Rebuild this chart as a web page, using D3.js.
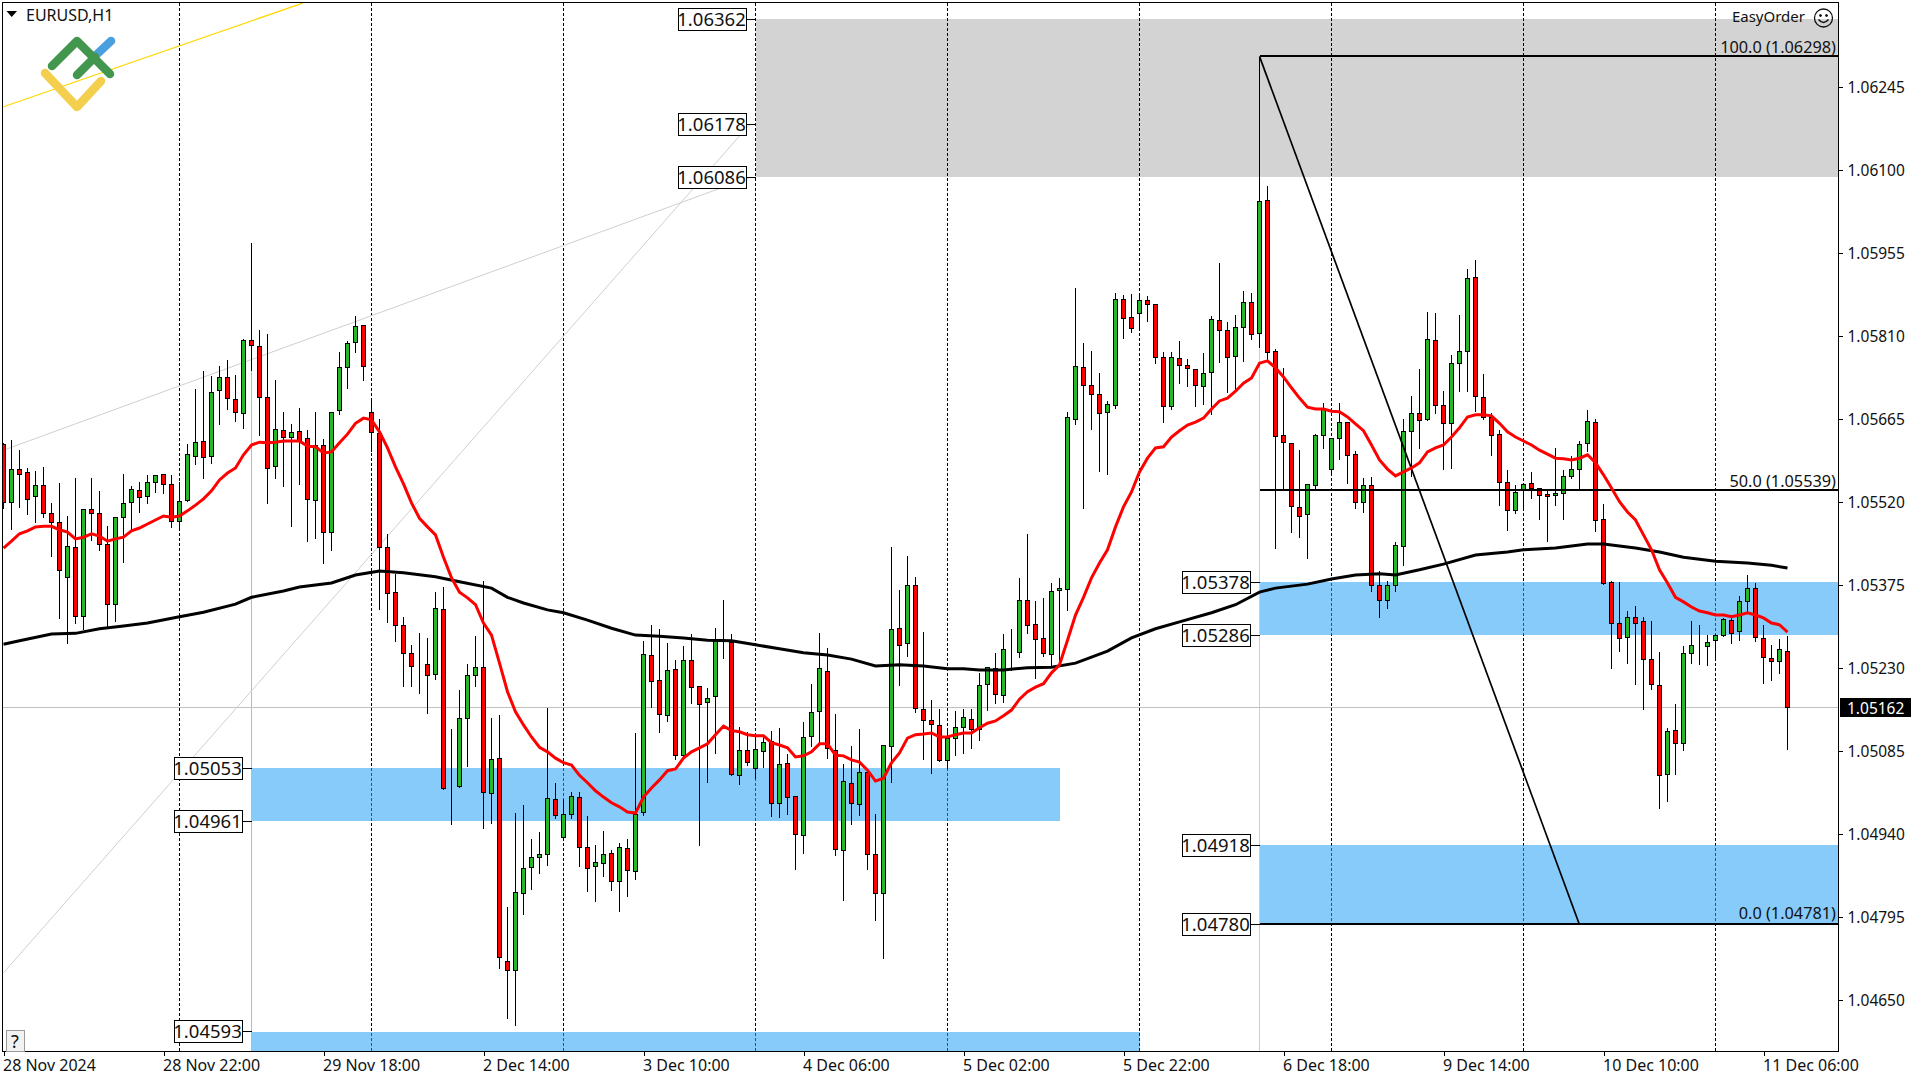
<!DOCTYPE html>
<html><head><meta charset="utf-8">
<script src="https://cdn.jsdelivr.net/npm/d3@7"></script>
<style>html,body{margin:0;padding:0;background:#fff;overflow:hidden}svg{display:block}text{font-family:"Noto Sans",sans-serif;fill:#111}</style>
</head><body><svg id="c" width="1920" height="1080"></svg>
<script>
// all prices are in points (price x 100000)
const opens=[105621,105520,105577,105572,105530,105549,105500,105485,105389,105441,
105320,105507,105500,105446,105341,105493,105520,105540,105530,105554,
105568,105551,105486,105523,105600,105626,105600,105715,105738,105699,
105675,105803,105792,105703,105582,105645,105633,105644,105631,105523,
105619,105467,105680,105755,105799,105829,105677,105640,105441,105362,
105305,105256,105236,105236,105219,105332,105022,105023,105142,105217,
105231,105011,105072,104718,104702,104836,104882,104899,104905,105001,
104934,104974,105004,104917,104884,104889,104906,104857,104915,104875,
104978,105252,105209,105147,105228,105077,105243,105198,105170,105181,
105278,105275,105042,105086,105055,105084,105102,104994,105063,105006,
104938,105111,105154,105224,105086,104912,105029,104992,105048,104905,
104836,105093,105299,105273,105374,105158,105139,105130,105069,105107,
105126,105141,105123,105202,105230,105182,105257,105257,105348,105306,
105282,105254,105366,105367,105664,105755,105724,105708,105677,105689,
105874,105843,105850,105872,105865,105773,105687,105771,105759,105752,
105722,105747,105837,105820,105775,105825,105869,105815,106047,105783,
105636,105623,105511,105498,105549,105636,105577,105631,105659,105603,
105520,105549,105374,105348,105374,105443,105644,105675,105664,105803,
105689,105657,105762,105783,105912,105703,105668,105638,105554,105506,
105540,105553,105544,105533,105532,105535,105565,105577,105623,105659,
105490,105380,105308,105283,105319,105312,105245,105200,105044,105121,
105098,105256,105266,105268,105278,105287,105313,105294,105346,105369,
105282,105247,105242,105259];
const closes=[105520,105577,105568,105525,105549,105500,105485,105401,105443,105320,
105507,105500,105446,105341,105493,105518,105542,105528,105554,105567,
105551,105486,105521,105603,105624,105598,105712,105738,105701,105677,
105803,105794,105703,105579,105647,105633,105642,105626,105525,105619,
105467,105677,105755,105797,105827,105757,105642,105441,105360,105305,
105256,105233,105236,105217,105334,105020,105022,105142,105217,105231,
105013,105070,104725,104702,104838,104880,104899,104905,105002,104973,
104974,105006,104917,104880,104891,104905,104857,104917,104877,104974,
105254,105207,105149,105226,105077,105243,105196,105167,105177,105277,
105278,105044,105086,105065,105088,105100,104994,105062,105004,104939,
105109,105153,105230,105090,104913,105032,104994,105048,104905,104836,
105095,105298,105270,105374,105160,105139,105132,105069,105107,105126,
105144,105123,105200,105231,105184,105263,105257,105348,105305,105280,
105256,105364,105369,105668,105757,105724,105708,105675,105691,105874,
105841,105823,105872,105865,105773,105687,105773,105759,105754,105724,
105745,105839,105820,105773,105825,105869,105813,106045,105781,105635,
105624,105513,105495,105551,105636,105682,105631,105659,105602,105520,
105549,105374,105348,105374,105444,105644,105675,105663,105804,105689,
105657,105762,105783,105911,105705,105668,105636,105554,105506,105537,
105551,105544,105532,105530,105535,105565,105577,105621,105661,105488,
105378,105308,105282,105319,105308,105245,105202,105042,105120,105098,
105256,105270,105266,105275,105287,105315,105290,105346,105369,105283,
105249,105242,105263,105162];
const highs=[105624,105630,105612,105581,105575,105582,105520,105554,105497,105563,
105507,105563,105540,105479,105495,105570,105549,105556,105568,105568,
105570,105568,105556,105623,105719,105750,105741,105759,105769,105743,
105806,105974,105822,105815,105734,105678,105657,105685,105647,105678,
105631,105678,105783,105803,105846,105829,105703,105666,105465,105396,
105320,105271,105292,105283,105364,105373,105125,105193,105238,105287,
105383,105144,105149,104814,104978,104992,104932,104945,105161,105030,
105002,105015,105015,104973,104922,104946,104913,104926,104932,105118,
105278,105306,105299,105275,105245,105270,105290,105198,105196,105301,
105350,105290,105128,105120,105114,105114,105121,105126,105081,105006,
105137,105203,105292,105266,105151,105063,105095,105125,105048,104976,
105095,105443,105367,105427,105390,105294,105175,105160,105126,105156,
105160,105160,105222,105233,105257,105290,105299,105389,105465,105348,
105353,105380,105389,105678,105895,105799,105785,105747,105698,105886,
105883,105885,105885,105881,105865,105783,105783,105803,105771,105754,
105781,105846,105939,105836,105848,105890,105886,106298,106073,105789,
105755,105623,105612,105553,105640,105694,105631,105694,105659,105610,
105563,105565,105401,105383,105451,105666,105706,105754,105853,105851,
105715,105778,105848,105928,105944,105745,105677,105647,105577,105551,
105551,105574,105546,105540,105616,105577,105602,105628,105682,105666,
105518,105383,105381,105331,105340,105320,105313,105259,105126,105168,
105270,105313,105306,105289,105290,105319,105324,105357,105394,105380,
105306,105271,105282,105287];
const lows=[105511,105474,105513,105500,105486,105495,105427,105319,105275,105310,
105299,105455,105437,105303,105313,105416,105474,105504,105520,105539,
105537,105477,105476,105523,105588,105563,105589,105657,105684,105663,
105650,105752,105638,105520,105563,105549,105479,105553,105453,105458,
105415,105437,105675,105720,105783,105734,105610,105334,105312,105278,
105200,105200,105188,105153,105212,105020,104959,105023,105060,105200,
104952,104960,104707,104620,104608,104802,104845,104873,104887,104969,
104934,104969,104885,104842,104824,104868,104844,104807,104833,104863,
104974,105163,105120,105139,105072,105072,105170,104922,105032,105083,
105249,105044,105029,105062,105039,105058,104973,104971,104976,104880,
104908,105095,105102,105074,104905,104826,104959,104974,104880,104791,
104725,105032,105202,105252,105154,105072,105048,105069,105056,105079,
105083,105092,105105,105158,105170,105172,105228,105250,105292,105214,
105252,105236,105235,105332,105657,105511,105649,105575,105570,105685,
105808,105818,105823,105837,105764,105661,105684,105729,105724,105689,
105693,105675,105766,105713,105717,105768,105806,105792,105768,105441,
105544,105469,105460,105423,105542,105616,105572,105596,105554,105511,
105504,105366,105320,105336,105366,105411,105567,105616,105664,105677,
105579,105581,105715,105715,105680,105666,105603,105516,105472,105502,
105509,105528,105491,105453,105516,105491,105563,105542,105610,105471,
105378,105231,105261,105240,105203,105160,105195,104987,104999,105046,
105088,105240,105238,105236,105247,105287,105275,105280,105329,105278,
105205,105210,105222,105090];
const maFast=[105439,105451,105464,105469,105476,105477,105477,105471,105467,105455,
105458,105464,105460,105451,105455,105458,105469,105474,105481,105488,
105495,105493,105495,105504,105514,105525,105539,105558,105570,105579,
105602,105619,105624,105623,105624,105626,105626,105626,105617,105616,
105605,105607,105623,105638,105657,105666,105663,105642,105614,105581,
105551,105518,105491,105476,105462,105423,105387,105362,105352,105340,
105308,105287,105238,105188,105153,105130,105109,105091,105083,105072,
105064,105060,105042,105029,105015,105004,104994,104987,104978,104976,
105004,105020,105034,105050,105053,105072,105083,105090,105097,105113,
105128,105120,105118,105113,105111,105111,105099,105095,105090,105074,
105076,105083,105097,105097,105077,105076,105069,105065,105051,105032,
105037,105064,105081,105107,105113,105114,105116,105109,105109,105113,
105116,105116,105125,105133,105137,105146,105156,105175,105188,105196,
105202,105221,105235,105278,105322,105353,105387,105413,105436,105476,
105511,105537,105572,105596,105614,105616,105633,105644,105654,105659,
105666,105682,105696,105701,105713,105727,105736,105762,105766,105754,
105738,105719,105701,105685,105682,105682,105678,105677,105668,105656,
105644,105619,105593,105577,105565,105572,105579,105588,105607,105614,
105619,105633,105649,105668,105672,105672,105670,105657,105642,105633,
105626,105619,105610,105603,105596,105595,105593,105596,105602,105588,
105567,105544,105520,105502,105488,105462,105436,105401,105378,105353,
105345,105336,105329,105326,105322,105322,105319,105322,105326,105322,
105317,105308,105305,105292];
const maSlowBars=[0,2,6,9,12,15,18,22,25,29,31,35,37,41,44,47,50,54,57,61,63,65,68,70,73,76,79,82,85,88,91,94,97,100,103,106,109,112,115,118,120,122,125,128,131,134,138,141,144,147,151,154,157,159,163,166,169,172,174,177,180,184,188,190,194,198,200,204,207,210,214,218,221,223];
const maSlowVals=[105271,105277,105289,105290,105298,105303,105308,105319,105327,105341,105353,105364,105371,105378,105392,105399,105396,105389,105380,105369,105353,105343,105331,105326,105313,105299,105287,105285,105282,105278,105277,105270,105263,105256,105252,105245,105233,105235,105233,105228,105228,105226,105226,105230,105231,105238,105259,105282,105298,105310,105326,105340,105362,105369,105376,105385,105392,105394,105392,105401,105411,105427,105432,105436,105439,105446,105446,105439,105432,105423,105416,105413,105409,105404];
const priceTicks=[106245,106100,105955,105810,105665,105520,105375,105230,105085,104940,104795,104650];
const timeBars=[0,20,40,60,80,100,120,140,160,180,200,220];
const timeLabels=["28 Nov 2024","28 Nov 22:00","29 Nov 18:00","2 Dec 14:00","3 Dec 10:00","4 Dec 06:00","5 Dec 02:00","5 Dec 22:00","6 Dec 18:00","9 Dec 14:00","10 Dec 10:00","11 Dec 06:00"];
const gridBars=[22,46,70,94,118,142,166,190,214];
const lastPrice=105162;
// zones: left bar, right bar (null = to the right edge), top and bottom price
const zoneLeft=[94,31,31,157,157];
const zoneRight=[null,132,142,null,null];
const zoneTop=[106362,105053,104593,105378,104918];
const zoneBottom=[106086,104961,104400,105286,104780];
const zoneColors=["#D3D3D3","#87CBFA","#87CBFA","#87CBFA","#87CBFA"];
const boxPrices=[106362,106178,106086,105053,104961,104593,105378,105286,104918,104780];
const boxBars=[94,94,94,31,31,31,157,157,157,157];
const fibLevels=[106298,105539,104781];
const fibLabels=["100.0 (1.06298)","50.0 (1.05539)","0.0 (1.04781)"];
const fibStartBar=157, fibEndBar=197;
const trendBarsA=[0,37.4], trendPricesA=[106210,106391];
const trendBarsB=[0,93.2], trendPricesB=[105610,106086];
const trendBarsC=[0,93.2], trendPricesC=[104697,106178];

const svg=d3.select("#c");
const L=2.5,T=2.5,R=1838.5,B=1051.5;
const x=d3.scaleLinear().domain([0,1]).range([3.5,11.5]);
const y=d3.scaleLinear().domain([106245,104650]).range([86.7,999.7]);
const py=v=>Math.round(y(v))+0.5;
const ly=v=>Math.floor(y(v)-0.5)+0.5;
const zy=v=>Math.floor(y(v)-0.3);
const px=i=>Math.round(x(i)-0.5)+0.5;

svg.append("defs").append("clipPath").attr("id","plot").append("rect")
  .attr("x",L).attr("y",T).attr("width",R-L).attr("height",B-T);
zoneTop.forEach((t,k)=>{ if(k>0){
  svg.select("defs").append("clipPath").attr("id","bz"+k).append("rect")
   .attr("x",x(zoneLeft[k])).attr("y",zy(t))
   .attr("width",(zoneRight[k]===null?R:x(zoneRight[k]))-x(zoneLeft[k]))
   .attr("height",zy(zoneBottom[k])-zy(t));
}});
const plot=svg.append("g").attr("clip-path","url(#plot)");

// zones
zoneTop.forEach((t,k)=>{
  const xl=x(zoneLeft[k]),xr=zoneRight[k]===null?R:x(zoneRight[k]);
  plot.append("rect").attr("x",xl).attr("y",zy(t)).attr("width",xr-xl)
    .attr("height",zy(zoneBottom[k])-zy(t)).attr("fill",zoneColors[k]).attr("shape-rendering","crispEdges");
});
// grid
const gridG=plot.append("g").attr("shape-rendering","crispEdges");
gridBars.forEach(b=>gridG.append("line").attr("x1",px(b)).attr("x2",px(b)).attr("y1",T).attr("y2",B)
  .attr("stroke","#000").attr("stroke-dasharray","3 2"));
zoneTop.forEach((t,k)=>{ if(k>0){
  const g=plot.append("g").attr("clip-path","url(#bz"+k+")").attr("shape-rendering","crispEdges");
  gridBars.forEach(b=>g.append("line").attr("x1",px(b)).attr("x2",px(b)).attr("y1",T).attr("y2",B)
    .attr("stroke","#6b4226").attr("stroke-dasharray","3 2"));
}});
// anchors and price line
plot.append("line").attr("x1",x(31)).attr("x2",x(31)).attr("y1",y(105800)).attr("y2",B).attr("stroke","#8FC6F0").attr("shape-rendering","crispEdges");
plot.append("line").attr("x1",x(157)).attr("x2",x(157)).attr("y1",y(106298)).attr("y2",B).attr("stroke","#CFCFCF").attr("stroke-width",1.5).attr("shape-rendering","crispEdges");
plot.append("line").attr("x1",L).attr("x2",R).attr("y1",py(lastPrice)).attr("y2",py(lastPrice)).attr("stroke","#C0C0C0").attr("shape-rendering","crispEdges");
// trend lines
const seg=(bars,prices,color,w)=>plot.append("line").attr("x1",x(bars[0])).attr("y1",y(prices[0])).attr("x2",x(bars[1])).attr("y2",y(prices[1])).attr("stroke",color).attr("stroke-width",w);
seg(trendBarsA,trendPricesA,"#FFD700",1.2);
seg(trendBarsB,trendPricesB,"#CFCFCF",1);
seg(trendBarsC,trendPricesC,"#CFCFCF",1);

// candles
const bars=d3.range(opens.length);
const cg=plot.append("g").attr("shape-rendering","crispEdges");
cg.selectAll("line.w").data(bars).join("line").attr("class","w")
  .attr("x1",px).attr("x2",px).attr("y1",i=>py(highs[i])).attr("y2",i=>py(lows[i])+1).attr("stroke","#000");
cg.selectAll("rect.b").data(bars).join("rect").attr("class","b")
  .attr("x",i=>px(i)-2).attr("width",4)
  .attr("y",i=>py(Math.max(opens[i],closes[i])))
  .attr("height",i=>Math.max(0,py(Math.min(opens[i],closes[i]))-py(Math.max(opens[i],closes[i]))))
  .attr("fill",i=>closes[i]>opens[i]?"#26B826":"#FF0000").attr("stroke","#000");

// fibo
const fg=plot.append("g");
fibLevels.forEach(v=>fg.append("line").attr("x1",x(fibStartBar)).attr("x2",R).attr("y1",Math.floor(y(v))).attr("y2",Math.floor(y(v))).attr("stroke","#000").attr("stroke-width",2).attr("shape-rendering","crispEdges"));
fg.append("line").attr("x1",x(fibStartBar)).attr("y1",y(fibLevels[0])).attr("x2",x(fibEndBar)).attr("y2",y(fibLevels[2])).attr("stroke","#000").attr("stroke-width",1.7);

// moving averages
const lineGen=d3.line().x(d=>x(d[0])).y(d=>y(d[1]));
plot.append("path").attr("d",lineGen(maSlowBars.map((b,i)=>[b,maSlowVals[i]]))).attr("fill","none").attr("stroke","#000").attr("stroke-width",3);
plot.append("path").attr("d",lineGen(maFast.map((v,i)=>[i,v]))).attr("fill","none").attr("stroke","#FF0000").attr("stroke-width",3);

// fibo labels
const fy=[-3,-4,-5.5];
fibLevels.forEach((v,k)=>svg.append("text").attr("x",1836).attr("y",y(v)+fy[k]).attr("text-anchor","end").attr("font-size",16.3).text(fibLabels[k]));

// price boxes
boxPrices.forEach((v,k)=>{
  const xr=x(boxBars[k])-10, yy=ly(v);
  svg.append("line").attr("x1",xr).attr("x2",x(boxBars[k])).attr("y1",yy).attr("y2",yy).attr("stroke","#000").attr("shape-rendering","crispEdges");
  svg.append("rect").attr("x",Math.round(xr-68)+0.5).attr("y",yy-11).attr("width",68).attr("height",22).attr("fill","#fff").attr("stroke","#000").attr("shape-rendering","crispEdges");
  svg.append("text").attr("x",xr-34).attr("y",yy+6.5).attr("text-anchor","middle").attr("font-size",18.5).text((v/1e5).toFixed(5));
});

// frame
svg.append("rect").attr("x",L).attr("y",T).attr("width",R-L).attr("height",B-T).attr("fill","none").attr("stroke","#000").attr("shape-rendering","crispEdges");

// axes
const priceAxis=d3.axisRight(y).tickValues(priceTicks).tickSize(4).tickPadding(5).tickFormat(v=>(v/1e5).toFixed(5));
const ag=svg.append("g").attr("transform",`translate(${R},0)`).call(priceAxis);
ag.select(".domain").remove();
ag.selectAll("text").attr("font-size",15.5).attr("transform","translate(0,1)").attr("font-family",'"Noto Sans",sans-serif').attr("fill","#111");
ag.selectAll("line").attr("stroke","#000").attr("shape-rendering","crispEdges");
const timeAxis=d3.axisBottom(x).tickValues(timeBars).tickSize(4).tickPadding(4).tickFormat((d,i)=>timeLabels[i]);
const tg=svg.append("g").attr("transform",`translate(0,${B})`).call(timeAxis);
tg.select(".domain").remove();
tg.selectAll("text").attr("text-anchor","start").attr("dx",-1).attr("font-size",16).attr("font-family",'"Noto Sans",sans-serif').attr("fill","#111");
tg.selectAll("line").attr("stroke","#000").attr("shape-rendering","crispEdges");

// last price tag
svg.append("rect").attr("x",1840).attr("y",py(lastPrice)-9.5).attr("width",71).attr("height",19).attr("fill","#000");
svg.append("text").attr("x",1847).attr("y",py(lastPrice)+6).attr("font-size",15.5).style("fill","#fff").text((lastPrice/1e5).toFixed(5));

// header
svg.append("path").attr("d","M6.5 11 L17 11 L11.7 17 Z").attr("fill","#000");
svg.append("text").attr("x",26).attr("y",20.5).attr("font-size",16).text("EURUSD,H1");
svg.append("text").attr("x",1805).attr("y",22).attr("text-anchor","end").attr("font-size",15).text("EasyOrder");
const sm=svg.append("g").attr("transform","translate(1823.5,18)").attr("fill","none").attr("stroke","#111");
sm.append("circle").attr("r",9).attr("stroke-width",1.3);
sm.append("path").attr("d","M-5 1.5 Q0 7.5 5 1.5").attr("stroke-width",1.4);
sm.append("circle").attr("cx",-3).attr("cy",-2.5).attr("r",1).attr("fill","#111");
sm.append("circle").attr("cx",3).attr("cy",-2.5).attr("r",1).attr("fill","#111");

// logo
const logo=svg.append("g").attr("fill","none").attr("stroke-width",8.5).attr("stroke-linecap","round").attr("stroke-linejoin","round");
logo.append("path").attr("d","M95 56 L111 41").attr("stroke","#4A9FDF");
logo.append("path").attr("d","M45 73 L77 107 L101 81").attr("stroke","#F4CF4E");
logo.append("path").attr("d","M52 66 L77 41 L110 74").attr("stroke","#43964E");
logo.append("path").attr("d","M77 75 L95 57").attr("stroke","#43964E");

// help button
svg.append("rect").attr("x",6.5).attr("y",1030.5).attr("width",18).attr("height",21).attr("fill","#F2F2F2").attr("stroke","#9a9a9a").attr("shape-rendering","crispEdges");
svg.append("text").attr("x",15).attr("y",1047.5).attr("text-anchor","middle").attr("font-size",18).text("?");
</script></body></html>
